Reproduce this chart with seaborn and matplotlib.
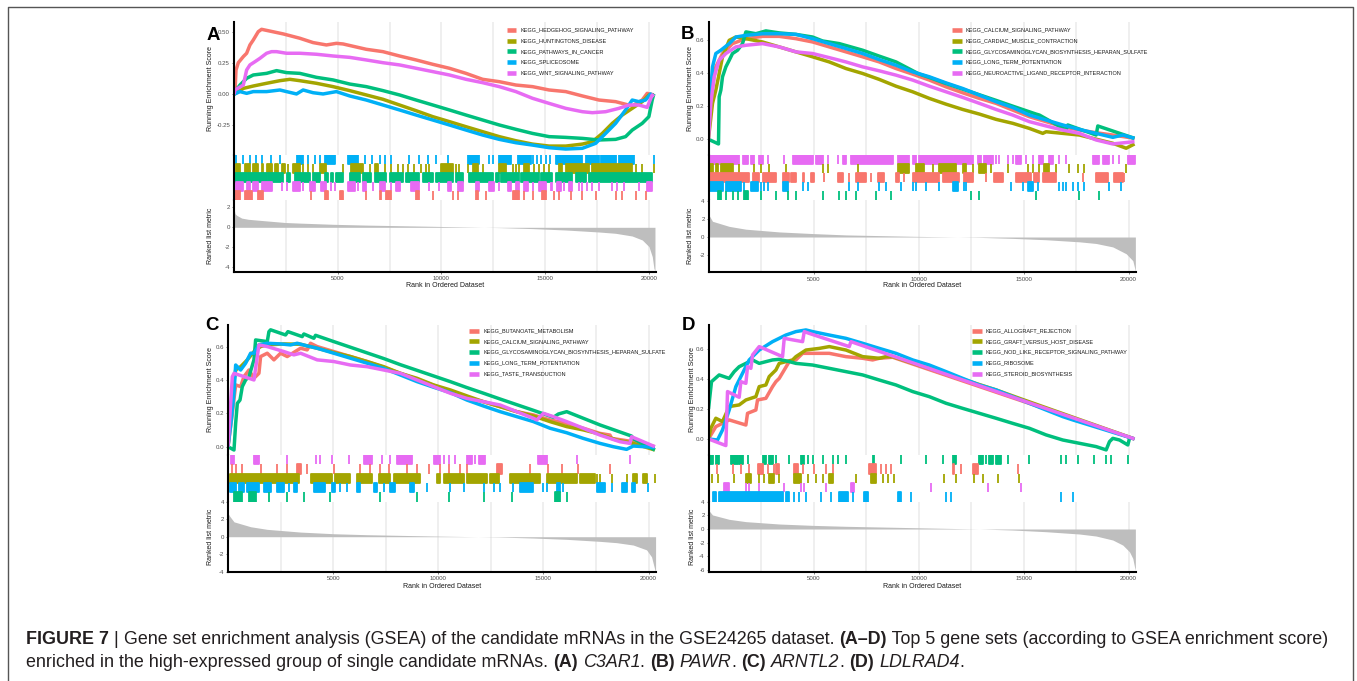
import matplotlib
matplotlib.use("Agg")
import matplotlib.pyplot as plt
from matplotlib.lines import Line2D
import numpy as np
import pandas as pd
import seaborn as sns

sns.set_theme(style="white")
plt.rcParams["font.family"] = ["Liberation Sans", "DejaVu Sans"]

# ------------------------------------------------------------------ colours
RED, OLIVE, GREEN, BLUE, PINK = "#F8766D", "#A3A500", "#00BF7D", "#00B0F6", "#E76BF3"

# ------------------------------------------------------------------ panel A (C3AR1)
A_SETS = ["KEGG_HEDGEHOG_SIGNALING_PATHWAY", "KEGG_HUNTINGTONS_DISEASE", "KEGG_PATHWAYS_IN_CANCER",
          "KEGG_SPLICEOSOME", "KEGG_WNT_SIGNALING_PATHWAY"]
A_HEDGEHOG_ES = [[0, 0.0], [48, 0.02], [96, 0.196], [208, 0.255], [449, 0.304], [609, 0.331], [769, 0.398],
                 [930, 0.438], [1170, 0.505], [1330, 0.524], [2372, 0.487], [3174, 0.452], [3815, 0.417],
                 [4456, 0.398], [4937, 0.411], [5258, 0.406], [6380, 0.363], [7182, 0.344], [7983, 0.309],
                 [8784, 0.277], [9586, 0.242], [10387, 0.21], [11189, 0.169], [11990, 0.121], [12792, 0.102],
                 [13593, 0.075], [14395, 0.062], [15196, 0.035], [15998, 0.022], [16799, -0.013],
                 [17601, -0.046], [18402, -0.059], [19204, -0.094], [19685, -0.046], [19925, 0.008],
                 [20246, -0.005]]
A_HUNTINGTONS_ES = [[0, 0.0], [449, 0.048], [930, 0.067], [1571, 0.089], [2212, 0.11], [2693, 0.121],
                    [3174, 0.11], [3975, 0.089], [4777, 0.062], [5578, 0.03], [6380, -0.005], [7182, -0.04],
                    [7983, -0.086], [8784, -0.132], [9586, -0.18], [10387, -0.22], [11189, -0.261],
                    [11990, -0.301], [12792, -0.341], [13593, -0.374], [14395, -0.401], [15196, -0.417],
                    [15998, -0.417], [16799, -0.401], [17280, -0.382], [17761, -0.315], [18242, -0.234],
                    [18723, -0.167], [19204, -0.113], [19685, -0.059], [20006, -0.005], [20246, -0.005]]
A_CANCER_ES = [[0, 0.0], [48, 0.022], [289, 0.075], [609, 0.129], [930, 0.156], [1571, 0.169], [2052, 0.191],
               [2533, 0.175], [3174, 0.169], [3975, 0.137], [4777, 0.116], [5578, 0.083], [6380, 0.062],
               [7182, 0.03], [7983, -0.005], [8784, -0.046], [9586, -0.086], [10387, -0.126], [11189, -0.167],
               [11990, -0.207], [12792, -0.247], [13593, -0.282], [14395, -0.315], [15196, -0.341],
               [15998, -0.347], [16799, -0.355], [17601, -0.368], [18402, -0.363], [18883, -0.341],
               [19204, -0.288], [19685, -0.234], [20006, -0.18], [20166, -0.046], [20246, 0.003]]
A_SPLICEOSOME_ES = [[0, 0.0], [289, 0.022], [609, 0.008], [930, 0.022], [1571, 0.022], [2212, 0.035],
                    [2533, 0.022], [3014, 0.003], [3334, 0.035], [3815, 0.013], [4296, 0.003], [4937, 0.022],
                    [5578, -0.013], [6380, -0.046], [7182, -0.086], [7983, -0.126], [8784, -0.167],
                    [9586, -0.207], [10387, -0.247], [11189, -0.288], [11990, -0.328], [12792, -0.363],
                    [13593, -0.39], [14395, -0.409], [15196, -0.43], [15998, -0.441], [16799, -0.435],
                    [17440, -0.395], [17921, -0.315], [18402, -0.234], [18883, -0.126], [19204, -0.046],
                    [19524, -0.059], [19845, -0.046], [20085, 0.003], [20246, -0.013]]
A_WNT_ES = [[0, 0.0], [48, 0.035], [449, 0.075], [609, 0.196], [769, 0.237], [1010, 0.263], [1250, 0.29],
            [1571, 0.331], [1811, 0.344], [2052, 0.344], [2533, 0.331], [3174, 0.331], [3975, 0.323],
            [4777, 0.309], [5578, 0.298], [6380, 0.277], [7182, 0.255], [7983, 0.237], [8784, 0.21],
            [9586, 0.183], [10387, 0.156], [11189, 0.121], [11990, 0.094], [12792, 0.062], [13593, 0.022],
            [14395, -0.032], [15196, -0.073], [15998, -0.113], [16799, -0.14], [17280, -0.148],
            [17921, -0.14], [18562, -0.113], [19043, -0.086], [19524, -0.086], [19925, -0.105],
            [20166, -0.005], [20246, -0.019]]
A_HEDGEHOG_HITS = [(48, 289), (529, 850), (1170, 1411), 3735, (4376, 4536), (5098, 5258), 6380, (7021, 7101),
                   (7342, 7582), (8784, 8945), 9586, 10548, 10788, (11670, 11750), 12151, (13433, 13754), 13994,
                   14395, (14876, 15036), 15437, 15677, 16238, 16799, 17440, 18402, 18723, 19364, 19845]
A_HUNTINGTONS_HITS = [(96, 289), (529, 769), (930, 1170), (1330, 1411), (1571, 1811), (1972, 2132),
                      (2292, 2453), 2613, (2853, 3174), 3334, 3575, 3815, (4136, 4456), 5258, (5659, 6220), 6540,
                      (6781, 6941), 7262, 7582, 7903, 8143, 8384, 8704, 9025, 9265, 9426, (9987, 10548), 10708,
                      10868, 11269, (11510, 11750), 11990, (12792, 13112), 13433, 13593, 13754, (13994, 14235),
                      14475, 14716, 14956, 15196, (15677, 15838), (15998, 17120), (17280, 19204), 19364, 19685,
                      20246]
A_CANCER_HITS = [(48, 609), (689, 1571), (1651, 2372), (2533, 2693), (2933, 3655), (3815, 4136), (4376, 4536),
                 (4697, 4777), (4937, 5258), (5578, 6059), (6220, 6620), (6781, 7342), (7502, 8143),
                 (8304, 8945), (9105, 9586), (9746, 10548), (10708, 11029), (11349, 12471), (12632, 12792),
                 (12872, 13754), (13834, 14716), (14796, 15357), (15517, 16319), (16479, 16960), (17120, 20166)]
A_SPLICEOSOME_HITS = [96, 449, 769, 1058, 1330, 1779, 2212, (3014, 3334), 3575, 3895, 4136, (4376, 4857),
                      (5498, 5979), 6300, 6668, 7021, 7262, 7582, 8432, 8945, 9345, 9746, 10307, (11269, 11830),
                      12311, 12503, (12760, 13353), (13674, 14315), 14395, 14635, 14796, 15036, 15228,
                      (15517, 15757), (15838, 16799), (16960, 17601), (17681, 18402), (18562, 19284), 20246]
A_WNT_HITS = [(96, 449), (609, 769), (930, 1170), (1330, 1811), 2292, 2565, (2853, 3174), 3334, (3655, 3895),
              (4216, 4456), 4697, 4857, (5498, 5819), 5979, (6220, 6380), 6700, (7021, 7262), 7582, (7823, 7983),
              (8544, 8945), 9426, 9906, (10307, 10467), (10788, 11029), (11670, 11830), (12311, 12551), 12792,
              (13193, 13353), (13593, 13754), (13994, 14154), 14395, (14716, 15036), 15276, 15357,
              (15597, 15757), 15918, (16158, 16319), 16639, 16799, 17040, 17280, 17601, 18242, 18482, 18803,
              19524, (19925, 20166)]
A_METRIC = [[0, 1.9], [50, 1.36], [130, 1.2], [370, 0.92], [690, 0.8], [1340, 0.68], [2470, 0.48],
            [3170, 0.42], [4780, 0.3], [6380, 0.22], [9590, 0.1], [12790, -0.03], [14400, -0.13],
            [16000, -0.27], [17600, -0.47], [18400, -0.6], [19200, -0.87], [19690, -1.27], [20010, -1.93],
            [20170, -2.93], [20250, -4.1], [20300, -4.4]]

# ------------------------------------------------------------------ panel B (PAWR)
B_SETS = ["KEGG_CALCIUM_SIGNALING_PATHWAY", "KEGG_CARDIAC_MUSCLE_CONTRACTION",
          "KEGG_GLYCOSAMINOGLYCAN_BIOSYNTHESIS_HEPARAN_SULFATE", "KEGG_LONG_TERM_POTENTIATION",
          "KEGG_NEUROACTIVE_LIGAND_RECEPTOR_INTERACTION"]
B_CALCIUM_ES = [[0, 0.036], [111, 0.258], [349, 0.439], [667, 0.52], [1143, 0.58], [1779, 0.61], [2573, 0.624],
                [3367, 0.624], [4161, 0.61], [4955, 0.59], [5749, 0.56], [6543, 0.53], [7337, 0.5],
                [8131, 0.469], [8925, 0.429], [9719, 0.395], [10513, 0.359], [11307, 0.318], [12101, 0.282],
                [12895, 0.248], [13689, 0.218], [14483, 0.177], [15277, 0.137], [16071, 0.107], [16865, 0.077],
                [17659, 0.056], [18453, 0.04], [19246, 0.026], [20279, 0.006]]
B_CARDIAC_ES = [[0, 0.006], [191, 0.218], [349, 0.298], [508, 0.399], [667, 0.5], [985, 0.6], [1302, 0.62],
                [1779, 0.61], [2573, 0.59], [3367, 0.56], [4161, 0.53], [4955, 0.5], [5749, 0.469],
                [6543, 0.429], [7337, 0.399], [8131, 0.363], [8925, 0.322], [9719, 0.288], [10513, 0.248],
                [11307, 0.213], [12101, 0.181], [12895, 0.153], [13689, 0.121], [14483, 0.097], [15277, 0.066],
                [15912, 0.036], [16071, 0.046], [17659, 0.026], [19246, -0.024], [19882, -0.054],
                [20279, -0.028]]
B_GLYCOS_ES = [[0, 0.0], [476, -0.028], [508, 0.258], [588, 0.298], [667, 0.379], [826, 0.439], [985, 0.479],
               [1143, 0.52], [1382, 0.54], [1620, 0.58], [1779, 0.651], [2255, 0.64], [2731, 0.657],
               [3367, 0.645], [4161, 0.636], [4955, 0.62], [5431, 0.596], [6225, 0.58], [7337, 0.54],
               [8131, 0.504], [8925, 0.469], [10004, 0.397], [10513, 0.375], [11307, 0.338], [12101, 0.304],
               [12895, 0.27], [13689, 0.236], [14483, 0.201], [15594, 0.153], [15753, 0.147], [17023, 0.056],
               [17103, 0.087], [18453, 0.026], [18532, 0.081], [20279, 0.006]]
B_LTP_ES = [[0, 0.1], [64, 0.218], [191, 0.439], [349, 0.52], [588, 0.54], [985, 0.58], [1302, 0.62],
            [1779, 0.63], [2573, 0.64], [3367, 0.64], [4161, 0.636], [4955, 0.61], [5749, 0.58], [6543, 0.55],
            [7337, 0.52], [8131, 0.483], [8925, 0.449], [9719, 0.409], [10513, 0.379], [11307, 0.342],
            [12101, 0.308], [12895, 0.268], [13689, 0.228], [14483, 0.193], [15277, 0.147], [16071, 0.117],
            [16865, 0.087], [17659, 0.06], [18453, 0.036], [19246, 0.012], [19723, 0.026], [20279, 0.006]]
B_NEURO_ES = [[0, 0.0], [111, 0.218], [270, 0.379], [508, 0.479], [826, 0.52], [1302, 0.56], [1779, 0.57],
              [2573, 0.58], [3367, 0.56], [4161, 0.53], [4955, 0.52], [5749, 0.495], [6543, 0.469],
              [7337, 0.439], [8131, 0.415], [8925, 0.389], [9719, 0.359], [10513, 0.322], [11307, 0.288],
              [12101, 0.254], [12895, 0.218], [13689, 0.181], [14483, 0.147], [15277, 0.107], [16071, 0.081],
              [16865, 0.056], [17659, 0.036], [18453, -0.004], [19246, -0.028], [20279, -0.014]]
B_CALCIUM_HITS = [(0, 1937), (2096, 2414), (2573, 3208), (3525, 3843), (3922, 4161), (4478, 4558), (4875, 5034),
                  5510, (6146, 6384), 6701, (7019, 7495), 7734, (8051, 8369), (8925, 9083), 9322, (9719, 10989),
                  (11148, 11942), (12180, 12577), 13212, (13609, 14006), (14641, 15356), (15515, 15753),
                  (15912, 16547), 17817, (18453, 19008), (19326, 19723), 19802]
B_CARDIAC_HITS = [(32, 191), (349, 429), (588, 1143), 1461, 2176, 2493, 2890, 3684, 5431, 5669, 7098,
                  (9004, 9560), (9877, 10274), 10671, (10989, 11783), (12101, 12259), 12577, (12895, 13212), 13450,
                  14244, 15197, 15436, 15753, (15991, 16229), 16547, 17182, 17579, 17897, 19882]
B_GLYCOS_HITS = [(429, 588), 826, 1143, 1382, (1699, 1858), 2493, 3208, 3764, 4161, 5431, 6225, 6543, 7019,
                 7972, 8686, 12498, 12895, 15594, 17659, 18611]
B_LTP_HITS = [(0, 667), (826, 1540), 1699, (2017, 2334), 2493, 2652, 2811, (3525, 3764), 4478, 4716, 6701, 7098,
              8131, 8448, 9163, 9719, 9877, 10354, 10989, (11624, 11862), 12180, 12259, 14403, 14959,
              (15197, 15436), 15674, 16706, 16865, 17023, 17341, 17579, 17897, 19088, 19643]
B_NEURO_HITS = [(32, 1461), (1620, 1858), (2017, 2176), (2414, 2573), 2811, 3605, (4002, 4955), (5113, 5431),
                5669, 6146, (6384, 6543), (6781, 8766), (9004, 9560), (9719, 9877), (10036, 11624),
                (11703, 12577), (12815, 12974), (13133, 13530), 13689, 13847, 14244, 14483, (14641, 14880), 15118,
                15436, (15753, 15912), (16229, 16388), 16706, 17023, (18294, 18611), (18770, 19088), 19246, 19564,
                (19961, 20279)]
B_METRIC = [[0, 2.5], [190, 1.73], [985, 1.17], [1779, 0.86], [3367, 0.56], [4955, 0.38], [6543, 0.23],
            [9719, 0.08], [12895, -0.04], [14483, -0.15], [16071, -0.3], [17659, -0.53], [18453, -0.71],
            [19246, -1.09], [19882, -1.84], [20199, -2.6], [20279, -3.35], [20320, -3.8]]

# ------------------------------------------------------------------ panel C (ARNTL2)
C_SETS = ["KEGG_BUTANOATE_METABOLISM", "KEGG_CALCIUM_SIGNALING_PATHWAY",
          "KEGG_GLYCOSAMINOGLYCAN_BIOSYNTHESIS_HEPARAN_SULFATE", "KEGG_LONG_TERM_POTENTIATION",
          "KEGG_TASTE_TRANSDUCTION"]
C_BUTANOATE_ES = [[0, 0.0], [206, 0.201], [364, 0.372], [601, 0.362], [759, 0.422], [997, 0.462], [1234, 0.412],
                  [1471, 0.442], [1550, 0.543], [1867, 0.563], [2183, 0.523], [2500, 0.563], [2816, 0.543],
                  [3449, 0.593], [3765, 0.583], [3923, 0.623], [4240, 0.603], [5031, 0.573], [5822, 0.543],
                  [6613, 0.513], [7404, 0.478], [8195, 0.442], [8986, 0.406], [9777, 0.37], [10568, 0.332],
                  [11359, 0.297], [12150, 0.271], [12941, 0.241], [13732, 0.211], [14523, 0.191], [15314, 0.161],
                  [16105, 0.141], [16896, 0.111], [17687, 0.08], [18161, 0.07], [18240, 0.05], [19269, 0.03],
                  [20297, 0.0]]
C_CALCIUM_ES = [[0, 0.0], [206, 0.322], [364, 0.462], [601, 0.482], [918, 0.523], [1234, 0.573], [1550, 0.603],
                [1867, 0.613], [2658, 0.619], [3449, 0.617], [4240, 0.593], [5031, 0.567], [5822, 0.543],
                [6613, 0.513], [7404, 0.482], [8195, 0.442], [8986, 0.412], [9777, 0.372], [10568, 0.342],
                [11359, 0.306], [12150, 0.271], [12941, 0.241], [13732, 0.211], [14523, 0.185], [15314, 0.151],
                [16105, 0.121], [16896, 0.101], [17687, 0.076], [18478, 0.04], [19269, 0.02], [20297, -0.02]]
C_GLYCOS_ES = [[0, 0.0], [285, -0.02], [364, 0.141], [443, 0.261], [570, 0.281], [680, 0.362], [838, 0.402],
               [997, 0.422], [1234, 0.523], [1313, 0.643], [1867, 0.633], [1946, 0.693], [2025, 0.704],
               [2737, 0.673], [2848, 0.693], [3528, 0.663], [3607, 0.679], [4082, 0.653], [4161, 0.671],
               [5031, 0.633], [5822, 0.599], [6613, 0.565], [7404, 0.531], [8195, 0.494], [8986, 0.46],
               [9777, 0.426], [10568, 0.392], [11359, 0.356], [12150, 0.322], [12941, 0.287], [13732, 0.253],
               [14523, 0.219], [15472, 0.177], [15709, 0.197], [16105, 0.211], [17687, 0.131], [19190, 0.064],
               [19269, 0.048], [20297, -0.02]]
C_LTP_ES = [[0, 0.0], [158, 0.161], [285, 0.322], [364, 0.492], [601, 0.462], [838, 0.503], [1076, 0.563],
            [1234, 0.563], [1471, 0.613], [1867, 0.623], [2500, 0.619], [2974, 0.613], [3291, 0.623],
            [3765, 0.607], [4240, 0.593], [5031, 0.563], [5822, 0.533], [6613, 0.503], [7404, 0.472],
            [8195, 0.432], [8986, 0.392], [9777, 0.358], [10568, 0.326], [11359, 0.281], [12150, 0.245],
            [12941, 0.211], [13732, 0.181], [14523, 0.151], [15314, 0.111], [16105, 0.084], [16896, 0.05],
            [17687, 0.02], [18320, 0.0], [18953, -0.016], [19269, 0.004], [20297, -0.004]]
C_TASTE_ES = [[0, 0.0], [206, 0.422], [285, 0.442], [1234, 0.402], [1471, 0.613], [1867, 0.603], [2658, 0.573],
              [3132, 0.553], [3449, 0.563], [4240, 0.523], [5031, 0.513], [5822, 0.492], [6613, 0.482],
              [7404, 0.462], [8195, 0.442], [8986, 0.402], [9777, 0.362], [10568, 0.322], [11359, 0.291],
              [12150, 0.271], [12941, 0.251], [13732, 0.211], [14523, 0.171], [14681, 0.161], [14997, 0.201],
              [15472, 0.181], [16105, 0.151], [16896, 0.111], [17687, 0.07], [18636, 0.03], [19111, 0.02],
              [19190, 0.06], [20297, 0.0]]
C_BUTANOATE_HITS = [206, 364, 680, 1550, 2341, 2816, (3291, 3449), 3765, 5031, 6296, 6771, 7246, 7641, 8511,
                    8986, 9539, 10093, 10489, 11042, 11359, (12783, 13020), 14365, 15235, 15868, 16658, 18161]
C_CALCIUM_HITS = [(95, 3370), (3923, 4952), (5110, 5822), (6138, 6850), (7166, 7720), (7878, 9144),
                  (9935, 10093), (10251, 11201), (11359, 12308), (12466, 12862), (13415, 14839), (15156, 16579),
                  (16738, 17450), 17528, 17687, 18240, 18953, (19269, 19427), (19743, 19902), 20297]
C_GLYCOS_HITS = [(285, 680), (997, 1313), 1946, 2816, 3607, 4873, 7246, 8986, 10489, 12150, 13495,
                 (15551, 15789), 16105]
C_LTP_HITS = [(95, 364), (522, 759), (918, 1471), (1709, 2025), (2341, 2658), 2895, (3132, 3291), (4082, 4635),
              (4952, 5110), 5347, 5664, (6138, 6296), (6929, 7087), 7404, (7720, 7958), (8669, 8828), 9460,
              10568, 11201, 12150, 12624, 12941, 13574, (13890, 14523), 14997, 15156, (15630, 15789), 15947,
              (17528, 17924), 18240, (18715, 18953), (19190, 19348), 19981]
C_TASTE_HITS = [(127, 285), (1234, 1471), 2816, 4161, 4398, 4952, 5743, (6455, 6850), 7325, 7720, (8037, 8748),
                (9777, 10093), 10251, 10489, 10805, (11359, 11596), 11754, (11912, 12229), (14760, 15156), 16579,
                19111]
C_METRIC = [[0, 2.66], [95, 2.3], [285, 1.7], [1076, 1.14], [1867, 0.84], [3449, 0.53], [5031, 0.34],
            [6613, 0.23], [9777, 0.08], [12941, -0.04], [14523, -0.15], [16105, -0.3], [17687, -0.53],
            [18478, -0.68], [19269, -0.95], [19902, -1.5], [20139, -2.3], [20297, -3.8], [20330, -4.0]]

# ------------------------------------------------------------------ panel D (LDLRAD4)
D_SETS = ["KEGG_ALLOGRAFT_REJECTION", "KEGG_GRAFT_VERSUS_HOST_DISEASE", "KEGG_NOD_LIKE_RECEPTOR_SIGNALING_PATHWAY",
          "KEGG_RIBOSOME", "KEGG_STEROID_BIOSYNTHESIS"]
D_ALLOGRAFT_ES = [[0, 0.0], [349, 0.082], [985, 0.127], [1779, 0.093], [1858, 0.171], [2255, 0.193],
                  [2334, 0.26], [2731, 0.271], [3049, 0.349], [3208, 0.382], [3367, 0.404], [3843, 0.516],
                  [4161, 0.527], [4478, 0.571], [4955, 0.571], [5749, 0.571], [6543, 0.549], [7337, 0.538],
                  [7813, 0.527], [8131, 0.538], [8766, 0.545], [20279, 0.0]]
D_GRAFT_ES = [[0, 0.0], [111, 0.071], [349, 0.138], [667, 0.116], [985, 0.216], [1461, 0.227], [1779, 0.26],
              [2255, 0.282], [2414, 0.349], [2731, 0.36], [2890, 0.416], [3208, 0.46], [3367, 0.504],
              [4002, 0.527], [4161, 0.549], [4637, 0.593], [5272, 0.604], [5749, 0.616], [6543, 0.593],
              [7337, 0.549], [8131, 0.538], [8448, 0.549], [8766, 0.549], [13689, 0.327], [14800, 0.271],
              [20279, 0.0]]
D_NOD_ES = [[0, 0.2], [64, 0.282], [143, 0.382], [508, 0.427], [985, 0.404], [1223, 0.449], [1461, 0.482],
            [1779, 0.504], [2096, 0.527], [2414, 0.504], [3049, 0.527], [3367, 0.531], [3843, 0.516],
            [4161, 0.504], [4955, 0.493], [5749, 0.471], [6543, 0.449], [7337, 0.427], [8131, 0.393],
            [8925, 0.36], [9719, 0.316], [10513, 0.282], [11307, 0.238], [12101, 0.204], [12895, 0.171],
            [13689, 0.138], [14483, 0.104], [15277, 0.071], [16071, 0.027], [16865, -0.007], [17659, -0.029],
            [18453, -0.051], [18929, -0.073], [19088, -0.018], [19246, 0.004], [19564, -0.007], [19961, -0.04],
            [20040, 0.004]]
D_RIBOSOME_ES = [[0, 0.0], [429, -0.007], [667, 0.06], [985, 0.193], [1302, 0.349], [1620, 0.438],
                 [1937, 0.527], [2414, 0.593], [3049, 0.649], [3684, 0.693], [4161, 0.716], [4637, 0.727],
                 [4955, 0.716], [5749, 0.693], [6543, 0.671], [7337, 0.638], [8131, 0.604], [8925, 0.571],
                 [9719, 0.527], [10513, 0.493], [11307, 0.449], [12101, 0.404], [12895, 0.36], [13689, 0.327],
                 [14483, 0.282], [15277, 0.238], [16071, 0.193], [16865, 0.149], [17341, 0.127], [20279, 0.0]]
D_STEROID_ES = [[0, 0.0], [826, -0.044], [905, 0.316], [1461, 0.278], [1540, 0.382], [1779, 0.371],
                [1858, 0.482], [2017, 0.471], [2096, 0.56], [2414, 0.616], [3525, 0.549], [3605, 0.671],
                [4478, 0.649], [4558, 0.716], [4796, 0.704], [6701, 0.616], [6781, 0.649], [20279, 0.0]]
D_ALLOGRAFT_HITS = [397, 1143, 1540, 1937, (2334, 2573), 2811, 3128, (3208, 3367), (4081, 4240), 4478, 5034,
                    5590, 5907, (7654, 7972), 8210, 8448, 8686, (11624, 11703), 12021, (12577, 12815), 14721]
D_GRAFT_HITS = [159, 429, 1223, (1779, 2017), 2414, 2652, (2890, 3128), 3367, (4081, 4399), 4716, 5113, 5431,
                (5749, 5907), 7019, (7734, 7972), 8290, 8528, 8845, 11227, 11783, 12656, 13053, 13768, 14800]
D_NOD_HITS = [(0, 191), (349, 508), (1064, 1382), (1461, 1620), 1858, (2573, 2731), (2890, 3049), 3208, 3843,
              (4399, 4558), 4716, 4955, 5431, 5907, 6146, 6543, (7813, 7892), 9163, 10354, 11148, (11624, 11783),
              (12895, 13053), 13212, (13371, 13530), (13689, 13927), 14244, 15277, 16785, 17023, 17579, 18373,
              18929, 19167, 19961]
D_RIBOSOME_HITS = [(191, 349), (508, 3525), (3684, 3843), 4081, 4319, 4637, 5352, 5828, (6225, 6622), 6860,
                   (7416, 7575), (9004, 9163), 9640, 11307, 11545, 16785, 17341]
D_STEROID_HITS = [(746, 985), 1779, 1937, 2414, 3605, 4399, 4558, 5590, (6781, 6940), 10592, 13292, 14880]
D_METRIC = [[0, 2.8], [191, 2.08], [985, 1.43], [1779, 1.09], [3367, 0.74], [4955, 0.54], [6543, 0.4],
            [9719, 0.2], [12895, 0.0], [14483, -0.15], [16071, -0.4], [17659, -0.74], [18453, -1.04],
            [19246, -1.63], [19723, -2.38], [20040, -3.37], [20199, -4.36], [20279, -5.6], [20320, -6.1]]

X_TICKS = [5000, 10000, 15000, 20000]
N_GENES = 20350

# ------------------------------------------------------------------ figure
W, H = 1357, 681
fig = plt.figure(figsize=(W / 100, H / 100), dpi=100)
fig.patch.set_facecolor("white")
renderer = fig.canvas.get_renderer()


def fr(x0, y0, x1, y1):
    return [x0 / W, 1 - y1 / H, (x1 - x0) / W, (y1 - y0) / H]


def fx(x):
    return x / W


def fy(y):
    return 1 - y / H


GRID_C = "#EBEBEB"
TICK_C = "#4D4D4D"
TITLE_C = "#1A1A1A"
SPINE_W = 1.5

PANELS = [
    dict(letter="A", letter_xy=(207, 40), x=(234, 656), y=(22, 155, 200, 272),
         sets=A_SETS, colors=[RED, OLIVE, GREEN, BLUE, PINK],
         es=[A_HEDGEHOG_ES, A_HUNTINGTONS_ES, A_CANCER_ES, A_SPLICEOSOME_ES, A_WNT_ES],
         hits=[A_HEDGEHOG_HITS, A_HUNTINGTONS_HITS, A_CANCER_HITS, A_SPLICEOSOME_HITS, A_WNT_HITS],
         rug_order=[3, 1, 2, 4, 0], metric=A_METRIC,
         es_lim=(-0.489, 0.583), es_ticks=[-0.25, 0.0, 0.25, 0.5], es_fmt="{:.2f}",
         rk_lim=(-4.47, 2.73), rk_ticks=[-4, -2, 0, 2],
         ylab_x=210, xlab_y=286, leg=(506.7, 516, 520.7, 30)),
    dict(letter="B", letter_xy=(681, 39.3), x=(708.5, 1136), y=(22, 155, 200, 272.3),
         sets=B_SETS, colors=[RED, OLIVE, GREEN, BLUE, PINK],
         es=[B_CALCIUM_ES, B_CARDIAC_ES, B_GLYCOS_ES, B_LTP_ES, B_NEURO_ES],
         hits=[B_CALCIUM_HITS, B_CARDIAC_HITS, B_GLYCOS_HITS, B_LTP_HITS, B_NEURO_HITS],
         rug_order=[4, 1, 0, 3, 2], metric=B_METRIC,
         es_lim=(-0.095, 0.711), es_ticks=[0.0, 0.2, 0.4, 0.6], es_fmt="{:.1f}",
         rk_lim=(-3.88, 4.07), rk_ticks=[-2, 0, 2, 4],
         ylab_x=690, xlab_y=286, leg=(951.7, 961.7, 965, 30)),
    dict(letter="C", letter_xy=(205, 330), x=(228, 656), y=(325, 455, 501.7, 572),
         sets=C_SETS, colors=[RED, OLIVE, GREEN, BLUE, PINK],
         es=[C_BUTANOATE_ES, C_CALCIUM_ES, C_GLYCOS_ES, C_LTP_ES, C_TASTE_ES],
         hits=[C_BUTANOATE_HITS, C_CALCIUM_HITS, C_GLYCOS_HITS, C_LTP_HITS, C_TASTE_HITS],
         rug_order=[4, 0, 1, 3, 2], metric=C_METRIC,
         es_lim=(-0.05, 0.733), es_ticks=[0.0, 0.2, 0.4, 0.6], es_fmt="{:.1f}",
         rk_lim=(-4.03, 4.0), rk_ticks=[-4, -2, 0, 2, 4],
         ylab_x=210, xlab_y=586, leg=(469, 479, 484, 330.7)),
    dict(letter="D", letter_xy=(682, 330), x=(708.5, 1136), y=(325, 455, 501.7, 572),
         sets=D_SETS, colors=[RED, OLIVE, GREEN, BLUE, PINK],
         es=[D_ALLOGRAFT_ES, D_GRAFT_ES, D_NOD_ES, D_RIBOSOME_ES, D_STEROID_ES],
         hits=[D_ALLOGRAFT_HITS, D_GRAFT_HITS, D_NOD_HITS, D_RIBOSOME_HITS, D_STEROID_HITS],
         rug_order=[2, 0, 1, 4, 3], metric=D_METRIC,
         es_lim=(-0.107, 0.76), es_ticks=[0.0, 0.2, 0.4, 0.6], es_fmt="{:.1f}",
         rk_lim=(-6.36, 4.04), rk_ticks=[-6, -4, -2, 0, 2, 4],
         ylab_x=693, xlab_y=586, leg=(971.7, 981.7, 985.7, 330.7)),
]

grid_pos = [2500 * k for k in range(1, 9)]


def style_common(ax):
    ax.set_facecolor("white")
    ax.set_xlim(0, N_GENES)
    for s in ["top", "right", "bottom"]:
        ax.spines[s].set_visible(False)
    ax.spines["left"].set_color("black")
    ax.spines["left"].set_linewidth(SPINE_W)
    ax.tick_params(axis="y", labelsize=4.4, labelcolor=TICK_C, color=TICK_C, length=1.6, width=0.5, pad=1.2,
                   left=True)
    ax.set_xlabel("")
    ax.set_ylabel("")


for P in PANELS:
    x0, x1 = P["x"]
    yt, yr, yb, yk = P["y"]
    ax_es = fig.add_axes(fr(x0, yt, x1, yr))
    ax_rug = fig.add_axes(fr(x0, yr, x1, yb))
    ax_rk = fig.add_axes(fr(x0, yb, x1, yk))

    # running enrichment score lines
    rows = []
    for name, es in zip(P["sets"], P["es"]):
        for r, v in es:
            rows.append((name, r, v))
    df = pd.DataFrame(rows, columns=["set", "rank", "es"])
    pal = dict(zip(P["sets"], P["colors"]))
    for gx in grid_pos:
        ax_es.axvline(gx, color=GRID_C, lw=1.1, zorder=0)
        ax_rk.axvline(gx, color=GRID_C, lw=1.1, zorder=0)
    sns.lineplot(data=df, x="rank", y="es", hue="set", hue_order=P["sets"], palette=pal,
                 estimator=None, sort=False, linewidth=2.5, legend=False, ax=ax_es)
    for ln in ax_es.get_lines():
        ln.set_solid_joinstyle("round")
        ln.set_solid_capstyle("butt")
    style_common(ax_es)
    ax_es.set_ylim(*P["es_lim"])
    ax_es.set_yticks(P["es_ticks"])
    ax_es.set_yticklabels([P["es_fmt"].format(t) for t in P["es_ticks"]])
    ax_es.set_xticks([])

    # hit rug
    style_common(ax_rug)
    ax_rug.set_ylim(0, 5)
    ax_rug.set_yticks([])
    ax_rug.set_xticks([])
    for row, idx in enumerate(P["rug_order"]):
        col = P["colors"][idx]
        spans = []
        for h in P["hits"][idx]:
            if isinstance(h, tuple):
                spans.append((h[0], h[1] - h[0]))
            else:
                spans.append((h, 0))
        ax_rug.broken_barh(spans, (4 - row, 1), facecolors=col, edgecolors=col, linewidth=1.3)

    # ranked list metric
    style_common(ax_rk)
    m = np.array(P["metric"], dtype=float)
    ax_rk.fill_between(m[:, 0], 0, m[:, 1], color="#BEBEBE", linewidth=0, zorder=2)
    ax_rk.set_ylim(*P["rk_lim"])
    ax_rk.set_yticks(P["rk_ticks"])
    ax_rk.set_yticklabels([str(t) for t in P["rk_ticks"]])
    ax_rk.spines["bottom"].set_visible(True)
    ax_rk.spines["bottom"].set_color("black")
    ax_rk.spines["bottom"].set_linewidth(SPINE_W)
    ax_rk.set_xticks(X_TICKS)
    ax_rk.set_xticklabels([str(t) for t in X_TICKS])
    ax_rk.tick_params(axis="x", labelsize=4.4, labelcolor=TICK_C, color=TICK_C, length=1.6, width=0.5,
                      pad=1.5, bottom=True)

    # titles
    fig.text(fx(P["ylab_x"]), fy((yt + yr) / 2), "Running Enrichment Score", rotation=90,
             ha="center", va="center", fontsize=5, color=TITLE_C)
    fig.text(fx(P["ylab_x"]), fy((yb + yk) / 2), "Ranked list metric", rotation=90,
             ha="center", va="center", fontsize=5, color=TITLE_C)
    fig.text(fx((x0 + x1) / 2), fy(P["xlab_y"]), "Rank in Ordered Dataset", ha="center", va="center",
             fontsize=5, color=TITLE_C)
    fig.text(fx(P["letter_xy"][0]), fy(P["letter_xy"][1]), P["letter"], fontsize=13.4,
             fontweight="bold", ha="left", va="baseline", color="black")

    # legend
    kx0, kx1, tx, ly = P["leg"]
    for i, (name, col) in enumerate(zip(P["sets"], P["colors"])):
        yy = ly + i * 10.7
        fig.add_artist(Line2D([fx(kx0), fx(kx1)], [fy(yy), fy(yy)], color=col, lw=3.3,
                              solid_capstyle="butt", transform=fig.transFigure))
        fig.text(fx(tx), fy(yy), name, fontsize=4.0, ha="left", va="center", color="#1A1A1A")

# ------------------------------------------------------------------ frame
fig.add_artist(Line2D([fx(7.5), fx(7.5), fx(1353), fx(1353)], [0, fy(6.5), fy(6.5), 0],
                      color="#555555", lw=1.0, transform=fig.transFigure))

# ------------------------------------------------------------------ caption
CAP_SIZE = 12.9
CAP_C = "#231F20"


def twidth(s, **kw):
    t = fig.text(0, 0, s, **kw)
    w = t.get_window_extent(renderer=renderer).width
    t.remove()
    return w


def advance(s, **kw):
    # advance width of s (spaces included), measured between two bars
    return twidth("|" + s + "|", **kw) - twidth("||", **kw)


def flow(pieces, x, y):
    for txt, wt, st in pieces:
        kw = dict(fontsize=CAP_SIZE, fontweight=wt, fontstyle=st, color=CAP_C)
        if txt.strip(" "):
            fig.text(fx(x), fy(y), txt, ha="left", va="baseline", **kw)
        x += advance(txt, **kw)


CAP_LINE1 = [("FIGURE 7", "bold", "normal"), (" | ", "normal", "normal"),
             ("Gene set enrichment analysis (GSEA) of the candidate mRNAs in the GSE24265 dataset. ", "normal",
              "normal"),
             ("(A\u2013D)", "bold", "normal"),
             (" Top 5 gene sets (according to GSEA enrichment score)", "normal", "normal")]
CAP_LINE2 = [("enriched in the high-expressed group of single candidate mRNAs. ", "normal", "normal"),
             ("(A)", "bold", "normal"), (" ", "normal", "normal"), ("C3AR1", "normal", "italic"),
             (". ", "normal", "normal"), ("(B)", "bold", "normal"), (" ", "normal", "normal"),
             ("PAWR", "normal", "italic"), (". ", "normal", "normal"), ("(C)", "bold", "normal"),
             (" ", "normal", "normal"), ("ARNTL2", "normal", "italic"), (". ", "normal", "normal"),
             ("(D)", "bold", "normal"), (" ", "normal", "normal"), ("LDLRAD4", "normal", "italic"),
             (".", "normal", "normal")]
flow(CAP_LINE1, 26, 644)
flow(CAP_LINE2, 26, 666.7)

fig.savefig("out.png", dpi=100, facecolor="white")
